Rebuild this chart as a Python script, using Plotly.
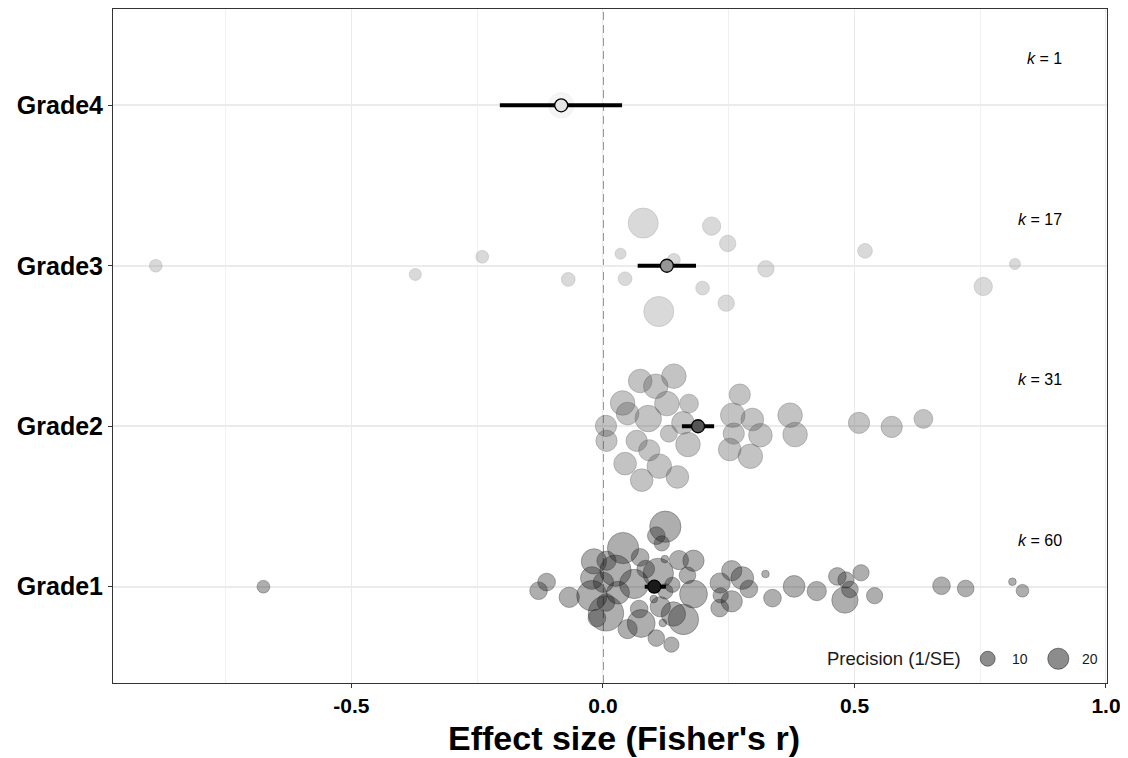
import plotly.graph_objects as go

# ---------------- data ----------------
groups = ["Grade1", "Grade2", "Grade3", "Grade4"]
k_counts = [60, 31, 17, 1]
mean_es = [0.102, 0.189, 0.127, -0.083]
ci_low = [0.083, 0.157, 0.069, -0.205]
ci_high = [0.125, 0.221, 0.185, 0.038]

g1_es = [0.124, 0.106, 0.117, 0.040, 0.123, 0.074, 0.151, 0.180, -0.018, 0.007,
         0.025, 0.085, 0.110, 0.168, -0.022, 0.001, 0.062, 0.138, -0.112, -0.128,
         -0.067, -0.022, 0.030, 0.124, 0.180, 0.101, 0.006, 0.006, 0.114, 0.072,
         -0.012, 0.076, 0.140, 0.160, 0.119, 0.049, 0.106, 0.136, 0.256, 0.277,
         0.233, 0.290, 0.234, 0.256, 0.232, 0.323, 0.337, 0.380, 0.425, 0.466,
         0.483, 0.513, 0.491, 0.481, 0.540, 0.673, 0.721, 0.814, 0.834, -0.675]
g1_jit = [0.374, 0.318, 0.270, 0.241, 0.172, 0.183, 0.166, 0.162, 0.158, 0.162,
          0.100, 0.110, 0.083, 0.071, 0.054, 0.027, 0.017, 0.012, 0.029, -0.025,
          -0.066, -0.056, -0.037, -0.029, -0.046, -0.077, -0.098, -0.166, -0.125, -0.139,
          -0.195, -0.229, -0.170, -0.204, -0.226, -0.264, -0.320, -0.361, 0.100, 0.054,
          0.023, -0.014, -0.054, -0.091, -0.133, 0.079, -0.071, 0.002, -0.027, 0.064,
          0.042, 0.087, -0.017, -0.083, -0.056, 0.006, -0.011, 0.031, -0.025, 0.0]
g1_prec = [22, 7, 5.2, 22, 1.3, 7, 8.3, 10.1, 14.3, 8.3,
           22, 7, 20.7, 6.2, 11.6, 9.2, 19.3, 5.2, 7, 7,
           9.2, 20.7, 11.6, 5.2, 17.4, 1.3, 7, 28, 9.2, 7,
           7, 17.4, 13.2, 20.7, 1.3, 8.3, 6.2, 5.2, 9.2, 11.6,
           9.2, 7, 5.2, 10.1, 7, 1.3, 7, 10.6, 8.3, 7,
           5.9, 5.9, 6.2, 15.5, 5.9, 7, 6.2, 1.3, 3.6, 3.6]

g2_es = [0.006, 0.007, 0.074, 0.105, 0.141, 0.039, 0.049, 0.090, 0.127, 0.171,
         0.159, 0.131, 0.067, 0.092, 0.169, 0.044, 0.112, 0.077, 0.148, 0.272,
         0.258, 0.297, 0.260, 0.313, 0.252, 0.293, 0.372, 0.382, 0.509, 0.574, 0.637]
g2_jit = [0.002, -0.091, 0.282, 0.249, 0.312, 0.145, 0.079, 0.048, 0.141, 0.141,
          0.021, -0.046, -0.091, -0.150, -0.114, -0.233, -0.249, -0.336, -0.316, 0.197,
          0.069, 0.042, -0.046, -0.056, -0.145, -0.187, 0.069, -0.052, 0.021, -0.004, 0.046]
g2_prec = [10.1, 10.1, 12.5, 13.5, 13.5, 13.5, 11.5, 15.7, 13.5, 8,
           11.5, 6.5, 10.1, 10.1, 13.5, 11.5, 13.5, 11.5, 11.5, 10.1,
           13.5, 11.5, 10.1, 12.5, 11.5, 13.5, 13.5, 13.5, 10.1, 10.1, 8]

g3_es = [-0.889, -0.373, -0.240, -0.069, 0.035, 0.044, 0.080, 0.111, 0.141,
         0.198, 0.216, 0.248, 0.245, 0.324, 0.521, 0.756, 0.819]
g3_jit = [0.0, -0.054, 0.056, -0.085, 0.075, -0.081, 0.266, -0.285, 0.037,
          -0.139, 0.247, 0.139, -0.233, -0.019, 0.093, -0.129, 0.011]
g3_prec = [3.6, 3.2, 3.6, 4.2, 2.7, 4.2, 20.3, 20.3, 3.6,
           4.2, 7.5, 6.0, 6.0, 6.0, 4.8, 7.5, 2.7]

g4_es = [-0.083]
g4_jit = [0.0]
g4_prec = [14.5]

legend_prec = [10, 20]
x_tickvals = [-0.5, 0.0, 0.5, 1.0]
x_ticktext = ["-0.5", "0.0", "0.5", "1.0"]
x_title = "Effect size (Fisher's r)"

# ---------------- styling ----------------
FONT = "Liberation Sans, Arial, Helvetica, sans-serif"
grey_rgb = [(26, 26, 26), (85, 85, 85), (150, 150, 150), (229, 229, 229)]
PX_PER_SQRT = 4.72  # bubble diameter (px) per sqrt(precision)
sizeref = 1.0 / PX_PER_SQRT ** 2

fig = go.Figure()

all_es = [g1_es, g2_es, g3_es, g4_es]
all_jit = [g1_jit, g2_jit, g3_jit, g4_jit]
all_prec = [g1_prec, g2_prec, g3_prec, g4_prec]

for i, name in enumerate(groups):
    r, g, b = grey_rgb[i]
    col = f"rgba({r},{g},{b},0.5)"
    fig.add_trace(go.Scatter(
        x=all_es[i],
        y=[i + 1 + j for j in all_jit[i]],
        mode="markers",
        marker=dict(size=all_prec[i], sizemode="area", sizeref=sizeref,
                    color=col, line=dict(color=col, width=1)),
        showlegend=False, hoverinfo="skip",
    ))

for i, name in enumerate(groups):
    fig.add_trace(go.Scatter(
        x=[ci_low[i], ci_high[i]], y=[i + 1, i + 1],
        mode="lines", line=dict(color="black", width=4),
        showlegend=False, hoverinfo="skip",
    ))

for i, name in enumerate(groups):
    r, g, b = grey_rgb[i]
    fig.add_trace(go.Scatter(
        x=[mean_es[i]], y=[i + 1],
        mode="markers",
        marker=dict(size=13, color=f"rgb({r},{g},{b})",
                    line=dict(color="black", width=1.3)),
        showlegend=False, hoverinfo="skip",
    ))

# k annotations
for i, k in enumerate(k_counts):
    fig.add_annotation(x=0.917, y=i + 1 + 0.29, xref="x", yref="y",
                       text=f"<i>k</i> = {k}", showarrow=False,
                       xanchor="right", yanchor="middle",
                       font=dict(family=FONT, size=16, color="black"))

# zero reference line
fig.add_shape(type="line", xref="x", yref="paper", x0=0, x1=0, y0=0, y1=1,
              line=dict(color="#7f7f7f", width=1.7, dash="8px,5px"), layer="below")

# size legend (bottom-right inside panel)
leg_y = 0.036
fig.add_annotation(x=0.855, y=leg_y, xref="paper", yref="paper",
                   text="Precision (1/SE)", showarrow=False,
                   xanchor="right", yanchor="middle",
                   font=dict(family=FONT, size=18.5, color="#1a1a1a"))
leg_cx = [0.880, 0.951]
leg_tx = [0.9125, 0.983]
for p, cx, tx in zip(legend_prec, leg_cx, leg_tx):
    d = PX_PER_SQRT * p ** 0.5
    fig.add_shape(type="circle", xref="paper", yref="paper",
                  xsizemode="pixel", ysizemode="pixel",
                  xanchor=cx, yanchor=leg_y,
                  x0=-d / 2, x1=d / 2, y0=-d / 2, y1=d / 2,
                  fillcolor="rgba(26,26,26,0.5)",
                  line=dict(color="rgba(26,26,26,0.5)", width=1))
    fig.add_annotation(x=tx, y=leg_y, xref="paper", yref="paper",
                       text=str(p), showarrow=False,
                       xanchor="center", yanchor="middle",
                       font=dict(family=FONT, size=14, color="#1a1a1a"))

# x-axis title (as annotation, placed under the tick labels)
fig.add_annotation(x=0.514, y=-0.081, xref="paper", yref="paper",
                   text=x_title, showarrow=False,
                   xanchor="center", yanchor="middle",
                   font=dict(family=FONT, size=34, color="black", weight="bold"))

# page body has an 8px margin: figure is 1120x750 placed at (8, 8)
fig.update_layout(
    width=1120, height=750,
    margin=dict(l=105, r=21, t=1, b=75),
    paper_bgcolor="white", plot_bgcolor="white",
    font=dict(family=FONT, color="black"),
    showlegend=False,
)

fig.update_xaxes(
    range=[-0.974, 1.002],
    tickvals=x_tickvals, ticktext=x_ticktext,
    tickfont=dict(family=FONT, size=21, color="black", weight="bold"),
    ticks="outside", ticklen=4, tickcolor="#333333", tickwidth=1,
    showgrid=True, gridcolor="#ebebeb", gridwidth=1,
    minor=dict(tickvals=[-0.75, -0.25, 0.25, 0.75], showgrid=True,
               gridcolor="#f0f0f0", gridwidth=1, ticks=""),
    showline=True, linecolor="#333333", linewidth=1, mirror=True,
    zeroline=False,
)

fig.update_yaxes(
    range=[0.4, 4.6],
    tickvals=[1, 2, 3, 4], ticktext=groups,
    tickfont=dict(family=FONT, size=25, color="black", weight="bold"),
    ticks="outside", ticklen=4, tickcolor="#333333", tickwidth=1,
    showgrid=True, gridcolor="#ebebeb", gridwidth=1.5,
    showline=True, linecolor="#333333", linewidth=1, mirror=True,
    zeroline=False,
)

fig.write_html("out.html")
